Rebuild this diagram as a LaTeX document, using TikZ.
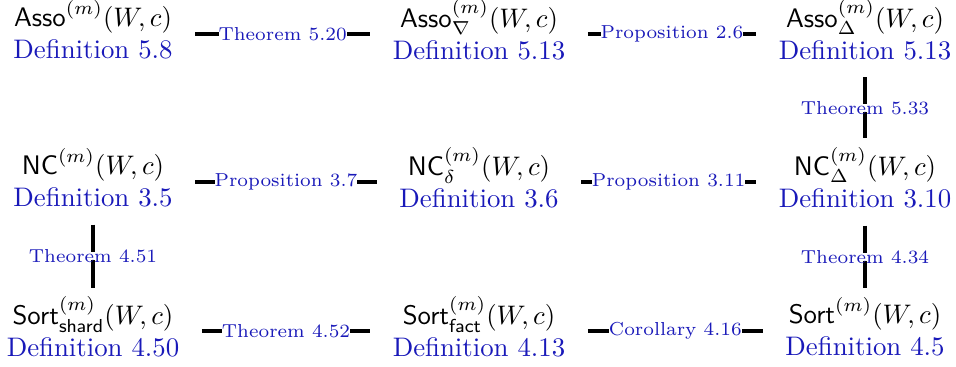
\documentclass[tikz,border=0pt]{standalone}
\usepackage{xcolor}

\definecolor{linkblue}{RGB}{25,25,185}

\newcommand*{\colA}{93}
\newcommand*{\colB}{479}
\newcommand*{\colC}{865}
\newcommand*{\rowA}{34}
\newcommand*{\rowB}{182}
\newcommand*{\rowC}{331}
\newcommand*{\defref}[1]{{\color{linkblue}Definition~#1\strut}}

\begin{document}
\begin{tikzpicture}
[
	x=0.013114cm, y=-0.013114cm,
	obj/.style={align=center, inner xsep=8.2pt, inner ysep=3pt},
	link/.style={line width=1.3pt},
	ref/.style={fill=white, font=\scriptsize, text=linkblue, inner xsep=0pt, inner ysep=-1pt}
]

	\useasboundingbox (0,0) rectangle (956,367);

	% objects
	\node[obj] (asso) at (\colA,\rowA) {$\mathsf{Asso}^{(m)}(W,c)$\\ \defref{5.8}};
	\node[obj] (assoNabla) at (\colB,\rowA) {$\mathsf{Asso}^{(m)}_{\nabla}(W,c)$\\ \defref{5.13}};
	\node[obj] (assoDelta) at (\colC,\rowA) {$\mathsf{Asso}^{(m)}_{\Delta}(W,c)$\\ \defref{5.13}};

	\node[obj] (nc) at (\colA,\rowB) {$\mathsf{NC}^{(m)}(W,c)$\\ \defref{3.5}};
	\node[obj] (ncDelta) at (\colB,\rowB) {$\mathsf{NC}^{(m)}_{\delta}(W,c)$\\ \defref{3.6}};
	\node[obj] (ncBigDelta) at (\colC,\rowB) {$\mathsf{NC}^{(m)}_{\Delta}(W,c)$\\ \defref{3.10}};

	\node[obj] (sortShard) at (\colA,\rowC) {$\mathsf{Sort}^{(m)}_{\mathsf{shard}}(W,c)$\\ \defref{4.50}};
	\node[obj] (sortFact) at (\colB,\rowC) {$\mathsf{Sort}^{(m)}_{\mathsf{fact}}(W,c)$\\ \defref{4.13}};
	\node[obj] (sort) at (\colC,\rowC) {$\mathsf{Sort}^{(m)}(W,c)$\\ \defref{4.5}};

	% equivalences
	\draw[link] (asso) -- node[ref] {Theorem 5.20} (assoNabla);
	\draw[link] (assoNabla) -- node[ref] {Proposition 2.6} (assoDelta);
	\draw[link] (assoDelta) -- node[ref] {Theorem 5.33} (ncBigDelta);

	\draw[link] (nc) -- node[ref] {Proposition 3.7} (ncDelta);
	\draw[link] (ncDelta) -- node[ref] {Proposition 3.11} (ncBigDelta);
	\draw[link] (nc) -- node[ref] {Theorem 4.51} (sortShard);
	\draw[link] (ncBigDelta) -- node[ref] {Theorem 4.34} (sort);

	\draw[link] (sortShard) -- node[ref] {Theorem 4.52} (sortFact);
	\draw[link] (sortFact) -- node[ref] {Corollary 4.16} (sort);

\end{tikzpicture}
\end{document}
